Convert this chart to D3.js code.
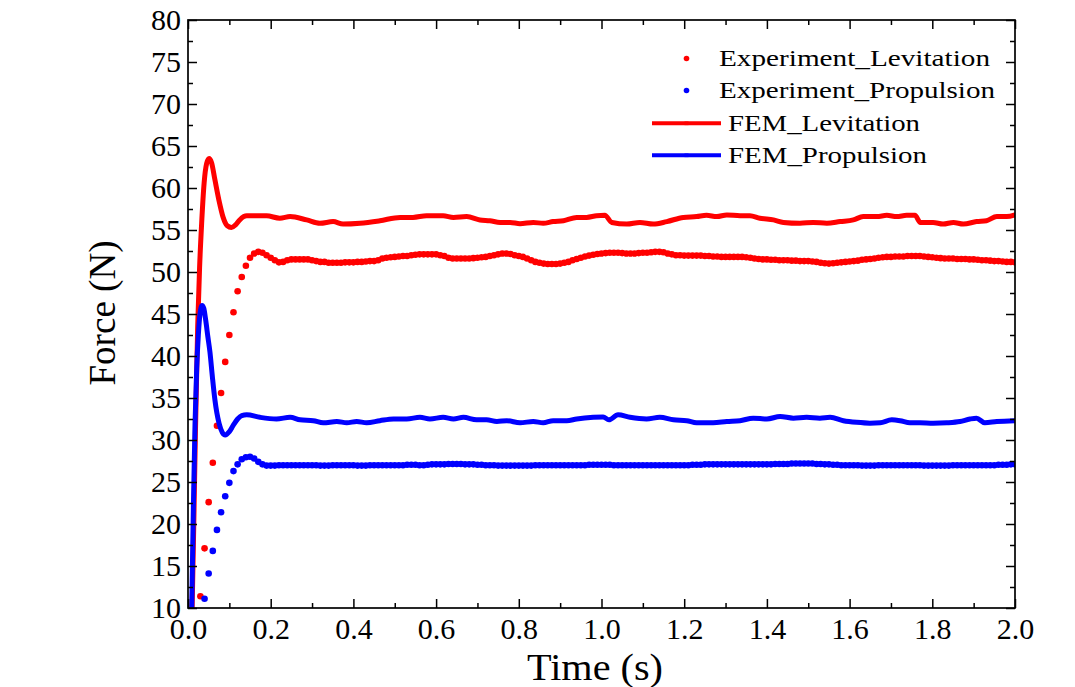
<!DOCTYPE html>
<html>
<head>
<meta charset="utf-8">
<script src="https://cdn.jsdelivr.net/npm/d3@7"></script>
<style>
  body { margin: 0; background: #fff; }
  svg { display: block; }
</style>
</head>
<body>
<svg id="svg" width="1075" height="687"></svg>
<script>
// experiment samples: one every 0.01 s, starting at 0.03 s
const expStart = 0.03, expStep = 0.01

const expLevitation = [
  11.4, 17.1, 22.6, 27.3, 31.7, 35.6, 39.3,
  42.5, 45.2, 47.7, 49.4, 50.75, 51.7, 52.2, 52.4, 52.3, 52.0,
  51.7, 51.4, 51.15, 51.2, 51.4, 51.5, 51.5, 51.5, 51.5, 51.5,
  51.4, 51.3, 51.2, 51.2, 51.1, 51.1, 51.1, 51.1, 51.15, 51.15,
  51.15, 51.2, 51.2, 51.25, 51.3, 51.3, 51.4, 51.6, 51.7, 51.75,
  51.8, 51.85, 51.9, 51.9, 52.0, 52.05, 52.1, 52.1, 52.1, 52.1,
  52.1, 52.0, 51.9, 51.7, 51.6, 51.6, 51.6, 51.6, 51.6, 51.65,
  51.7, 51.75, 51.8, 51.9, 52.0, 52.1, 52.2, 52.2, 52.15, 52.0,
  51.9, 51.8, 51.6, 51.4, 51.2, 51.1, 51.0, 50.95, 50.95, 50.95,
  51.0, 51.1, 51.2, 51.4, 51.55, 51.7, 51.85, 51.95, 52.05, 52.15,
  52.2, 52.25, 52.3, 52.3, 52.3, 52.25, 52.2, 52.2, 52.2, 52.25,
  52.3, 52.3, 52.35, 52.4, 52.4, 52.35, 52.2, 52.1, 52.0, 52.0,
  51.95, 51.95, 51.95, 51.95, 51.95, 51.9, 51.9, 51.85, 51.85, 51.8,
  51.8, 51.8, 51.8, 51.8, 51.8, 51.75, 51.7, 51.6, 51.55, 51.5,
  51.5, 51.45, 51.45, 51.4, 51.4, 51.4, 51.35, 51.35, 51.3, 51.3,
  51.3, 51.25, 51.2, 51.1, 51.05, 51.0, 51.05, 51.1, 51.15, 51.2,
  51.25, 51.3, 51.35, 51.45, 51.5, 51.55, 51.6, 51.7, 51.75, 51.8,
  51.8, 51.85, 51.85, 51.85, 51.9, 51.9, 51.9, 51.9, 51.85, 51.8,
  51.75, 51.7, 51.65, 51.6, 51.6, 51.6, 51.55, 51.55, 51.55, 51.5,
  51.5, 51.45, 51.4, 51.4, 51.35, 51.3, 51.3, 51.25, 51.2, 51.2,
  51.15
]

const expPropulsion = [
  8.2, 11.1, 14.1, 16.8, 19.3, 21.4, 23.3,
  24.9, 26.3, 27.1, 27.7, 27.95, 28.0, 27.8, 27.4, 27.1, 26.95,
  26.95, 26.95, 27.0, 27.0, 27.0, 27.0, 27.0, 27.0, 27.0, 27.0,
  27.0, 27.0, 26.95, 26.95, 26.95, 27.0, 27.0, 27.0, 27.0, 27.0,
  27.0, 26.95, 26.95, 26.95, 27.0, 27.0, 27.0, 27.0, 27.0, 27.0,
  27.0, 27.0, 27.0, 27.05, 27.05, 27.05, 27.0, 27.0, 27.05, 27.1,
  27.1, 27.1, 27.1, 27.15, 27.15, 27.15, 27.15, 27.1, 27.1, 27.1,
  27.05, 27.05, 27.0, 27.0, 27.0, 26.95, 26.95, 26.95, 26.95, 26.95,
  26.95, 26.95, 26.95, 26.95, 27.0, 27.0, 27.0, 27.0, 27.0, 27.0,
  27.0, 27.0, 27.0, 27.0, 27.0, 27.0, 27.0, 27.05, 27.05, 27.05,
  27.05, 27.05, 27.05, 27.0, 27.0, 27.0, 27.0, 27.0, 27.0, 27.0,
  27.0, 27.0, 27.0, 27.0, 27.0, 27.0, 27.0, 27.0, 27.0, 27.0,
  27.0, 27.0, 27.05, 27.05, 27.05, 27.1, 27.1, 27.1, 27.1, 27.1,
  27.1, 27.1, 27.1, 27.1, 27.1, 27.1, 27.1, 27.1, 27.1, 27.1,
  27.1, 27.1, 27.15, 27.15, 27.15, 27.15, 27.2, 27.2, 27.2, 27.2,
  27.2, 27.2, 27.15, 27.15, 27.1, 27.1, 27.05, 27.05, 27.0, 27.0,
  27.0, 27.0, 27.0, 26.95, 26.95, 26.95, 26.95, 27.0, 27.0, 27.0,
  27.0, 27.0, 27.0, 27.0, 27.0, 27.0, 27.0, 27.0, 26.95, 26.95,
  26.95, 26.95, 26.95, 26.95, 26.95, 27.0, 27.0, 27.0, 27.0, 27.0,
  27.0, 27.0, 27.0, 27.0, 27.0, 27.0, 27.05, 27.05, 27.05, 27.1,
  27.1
]

const femLevTime = [
  0.010, 0.014, 0.018, 0.0234, 0.028, 0.033, 0.039, 0.045, 0.051, 0.057,
  0.065, 0.075, 0.085, 0.095, 0.105, 0.115, 0.125, 0.135, 0.142, 0.19,
  0.222, 0.247, 0.287, 0.319, 0.351, 0.375, 0.416, 0.464, 0.513, 0.544,
  0.577, 0.617, 0.642, 0.674, 0.706, 0.730, 0.755, 0.779, 0.803, 0.835,
  0.859, 0.883, 0.908, 0.940, 0.964, 0.988, 1.008, 1.025, 1.061, 1.093,
  1.125, 1.158, 1.198, 1.230, 1.254, 1.279, 1.303, 1.335, 1.359, 1.383,
  1.416, 1.440, 1.480, 1.512, 1.545, 1.577, 1.609, 1.633, 1.666, 1.690,
  1.714, 1.738, 1.758, 1.771, 1.802, 1.826, 1.851, 1.875, 1.907, 1.931,
  1.956, 1.980, 2.0
]
const femLevForce = [
  10, 20, 31, 43.5, 50.5, 55.8, 60.6, 62.9, 63.5, 63.0,
  61.0, 58.5, 56.5, 55.5, 55.3, 55.6, 56.2, 56.6, 56.7, 56.7,
  56.4, 56.6, 56.2, 55.8, 56.0, 55.7, 55.8, 56.1, 56.5, 56.5,
  56.7, 56.7, 56.5, 56.6, 56.2, 56.1, 55.9, 55.9, 55.75, 55.9,
  55.8, 56.0, 56.1, 56.5, 56.5, 56.7, 56.75, 55.9, 55.7, 55.9,
  55.7, 56.0, 56.5, 56.6, 56.75, 56.6, 56.8, 56.7, 56.7, 56.4,
  56.2, 55.9, 55.8, 55.9, 55.8, 56.0, 56.2, 56.6, 56.6, 56.75,
  56.6, 56.75, 56.75, 55.9, 55.9, 55.7, 55.9, 55.7, 56.0, 56.1,
  56.6, 56.6, 56.8
]

const femPropTime = [
  0.009, 0.013, 0.017, 0.021, 0.025, 0.029, 0.034, 0.038, 0.043, 0.048,
  0.053, 0.059, 0.065, 0.075, 0.083, 0.090, 0.100, 0.110, 0.120, 0.130,
  0.142, 0.174, 0.214, 0.247, 0.271, 0.303, 0.327, 0.360, 0.384, 0.408,
  0.432, 0.464, 0.497, 0.529, 0.561, 0.585, 0.617, 0.642, 0.666, 0.698,
  0.722, 0.747, 0.771, 0.803, 0.835, 0.859, 0.883, 0.916, 0.940, 0.980,
  1.004, 1.018, 1.040, 1.069, 1.109, 1.141, 1.174, 1.206, 1.230, 1.270,
  1.303, 1.335, 1.367, 1.400, 1.432, 1.464, 1.496, 1.528, 1.553, 1.585,
  1.617, 1.649, 1.674, 1.702, 1.722, 1.746, 1.770, 1.802, 1.835, 1.867,
  1.891, 1.907, 1.927, 1.956, 2.0
]
const femPropForce = [
  10, 22, 32, 38.5, 42.5, 45, 46, 45.7, 44.2, 42.3,
  40.5, 37.5, 34.8, 32, 30.9, 30.6, 31.0, 31.8, 32.5, 32.9,
  33.0, 32.7, 32.5, 32.7, 32.4, 32.3, 32.05, 32.2, 32.05, 32.2,
  32.05, 32.3, 32.5, 32.5, 32.7, 32.5, 32.7, 32.5, 32.7, 32.4,
  32.4, 32.2, 32.3, 32.05, 32.2, 32.05, 32.3, 32.3, 32.5, 32.7,
  32.75, 32.4, 33.0, 32.7, 32.5, 32.7, 32.4, 32.3, 32.05, 32.05,
  32.2, 32.3, 32.6, 32.5, 32.8, 32.6, 32.7, 32.6, 32.7, 32.3,
  32.1, 32.0, 32.05, 32.4, 32.3, 32.05, 32.05, 32.0, 32.05, 32.2,
  32.5, 32.6, 32.05, 32.2, 32.3
]

const xTicks = [0, 0.2, 0.4, 0.6, 0.8, 1.0, 1.2, 1.4, 1.6, 1.8, 2.0]
const yTicks = [10, 15, 20, 25, 30, 35, 40, 45, 50, 55, 60, 65, 70, 75, 80]
const legendLabels = ["Experiment_Levitation", "Experiment_Propulsion", "FEM_Levitation", "FEM_Propulsion"]

const serif = "'Liberation Serif', 'Times New Roman', Times, serif"

const svg = d3.select("#svg")
const plotLeft = 188, plotRight = 1015, plotTop = 20, plotBottom = 608

const x = d3.scaleLinear().domain([0, 2]).range([plotLeft, plotRight])
const y = d3.scaleLinear().domain([10, 80]).range([plotBottom, plotTop])

const red = "#ff0000", blue = "#0000ff"

svg.append("clipPath").attr("id", "plotclip")
  .append("rect")
    .attr("x", plotLeft).attr("y", plotTop)
    .attr("width", plotRight - plotLeft).attr("height", plotBottom - plotTop)

const plot = svg.append("g").attr("clip-path", "url(#plotclip)")

const expPts = vals => vals.map((v, i) => ({t: expStart + i * expStep, f: v}))

function dots(vals, color) {
  plot.append("g")
    .selectAll("circle")
    .data(expPts(vals))
    .join("circle")
      .attr("cx", d => x(d.t))
      .attr("cy", d => y(d.f))
      .attr("r", 3.3)
      .attr("fill", color)
}
dots(expLevitation, red)
dots(expPropulsion, blue)

const line = d3.line().x(d => x(d[0])).y(d => y(d[1])).curve(d3.curveMonotoneX)

function femLine(ts, fs, color) {
  plot.append("path")
    .datum(d3.zip(ts, fs))
    .attr("d", line)
    .attr("fill", "none")
    .attr("stroke", color)
    .attr("stroke-width", 5)
    .attr("stroke-linejoin", "round")
    .attr("stroke-linecap", "round")
}
femLine(femLevTime, femLevForce, red)
femLine(femPropTime, femPropForce, blue)

// axes, ticks pointing inward on all four sides
const xMinor = d3.range(0, 2.01, 0.1).filter((d, i) => i % 2 === 1)
const yMinor = d3.range(12.5, 80, 5)

function styleAxis(g) {
  g.select(".domain").remove()
  g.selectAll("line").attr("stroke", "#000").attr("stroke-width", 1.5)
  g.selectAll("text")
    .style("font-family", serif)
    .style("font-size", "30px")
    .attr("fill", "#000")
}

svg.append("g").attr("transform", `translate(0,${plotBottom})`)
  .call(d3.axisBottom(x).tickValues(xTicks).tickSize(-9).tickPadding(10).tickFormat(d3.format(".1f")))
  .call(styleAxis)
svg.append("g").attr("transform", `translate(0,${plotBottom})`)
  .call(d3.axisBottom(x).tickValues(xMinor).tickSize(-5).tickFormat(""))
  .call(styleAxis)
svg.append("g").attr("transform", `translate(0,${plotTop})`)
  .call(d3.axisTop(x).tickValues(xTicks).tickSize(-9).tickFormat(""))
  .call(styleAxis)
svg.append("g").attr("transform", `translate(0,${plotTop})`)
  .call(d3.axisTop(x).tickValues(xMinor).tickSize(-5).tickFormat(""))
  .call(styleAxis)

svg.append("g").attr("transform", `translate(${plotLeft},0)`)
  .call(d3.axisLeft(y).tickValues(yTicks).tickSize(-9).tickPadding(7))
  .call(styleAxis)
svg.append("g").attr("transform", `translate(${plotLeft},0)`)
  .call(d3.axisLeft(y).tickValues(yMinor).tickSize(-5).tickFormat(""))
  .call(styleAxis)
svg.append("g").attr("transform", `translate(${plotRight},0)`)
  .call(d3.axisRight(y).tickValues(yTicks).tickSize(-9).tickFormat(""))
  .call(styleAxis)
svg.append("g").attr("transform", `translate(${plotRight},0)`)
  .call(d3.axisRight(y).tickValues(yMinor).tickSize(-5).tickFormat(""))
  .call(styleAxis)

svg.append("rect")
  .attr("x", plotLeft).attr("y", plotTop)
  .attr("width", plotRight - plotLeft).attr("height", plotBottom - plotTop)
  .attr("fill", "none").attr("stroke", "#000").attr("stroke-width", 1.7)

// axis titles
svg.append("text")
  .attr("x", 595).attr("y", 680)
  .attr("text-anchor", "middle")
  .style("font-family", serif).style("font-size", "38px")
  .attr("textLength", 136).attr("lengthAdjust", "spacingAndGlyphs")
  .text("Time (s)")

svg.append("text")
  .attr("transform", "translate(115,313) rotate(-90)")
  .attr("text-anchor", "middle")
  .style("font-family", serif).style("font-size", "38px")
  .attr("textLength", 145).attr("lengthAdjust", "spacingAndGlyphs")
  .text("Force (N)")

// legend
const legendRows = [
  {label: legendLabels[0], color: red, kind: "dot", y: 66, tx: 719, len: 271},
  {label: legendLabels[1], color: blue, kind: "dot", y: 98, tx: 719, len: 276},
  {label: legendLabels[2], color: red, kind: "line", y: 131, tx: 728, len: 192},
  {label: legendLabels[3], color: blue, kind: "line", y: 163, tx: 728, len: 199}
]
const legend = svg.append("g")
legendRows.forEach(r => {
  if (r.kind === "dot") {
    legend.append("circle").attr("cx", 686.5).attr("cy", r.y - 7.5).attr("r", 2.8).attr("fill", r.color)
  } else {
    legend.append("line")
      .attr("x1", 652).attr("x2", 721)
      .attr("y1", r.y - 7.8).attr("y2", r.y - 7.8)
      .attr("stroke", r.color).attr("stroke-width", 4)
    legend.append("rect")
      .attr("x", 684.5).attr("y", r.y - 9.8).attr("width", 4).attr("height", 4)
      .attr("fill", r.color).attr("opacity", 0.6)
  }
  legend.append("text")
    .attr("x", r.tx).attr("y", r.y)
    .style("font-family", serif).style("font-size", "24px")
    .attr("textLength", r.len).attr("lengthAdjust", "spacingAndGlyphs")
    .text(r.label)
})
</script>
</body>
</html>
